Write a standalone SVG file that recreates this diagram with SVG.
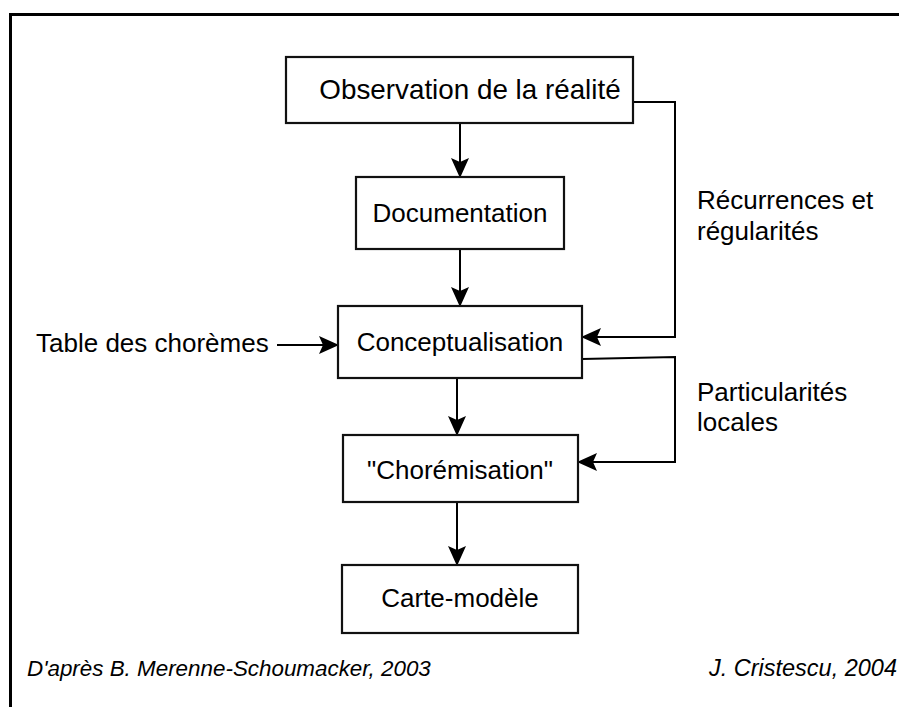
<svg xmlns="http://www.w3.org/2000/svg" width="899" height="707" viewBox="0 0 899 707">
<style>
.box{fill:#fff;stroke:#111;stroke-width:2.2}
.t{font-family:"Liberation Sans",Arial,sans-serif;font-size:26px;fill:#000}
.c{text-anchor:middle}
.f{font-family:"Liberation Sans",Arial,sans-serif;font-size:22.4px;font-style:italic;fill:#000}
.ln{fill:none;stroke:#000;stroke-width:2}
</style>
<defs>
<marker id="ah" viewBox="0 0 20 18" refX="19" refY="9" markerWidth="20" markerHeight="18" markerUnits="userSpaceOnUse" orient="auto">
<path d="M0,0 L20,9 L0,18 L4,9 Z" fill="#000"/>
</marker>
</defs>
<rect x="0" y="0" width="899" height="707" fill="#fff"/>
<path d="M10.5,707 V14.5 H899" fill="none" stroke="#000" stroke-width="3"/>
<g id="connectors">
<line class="ln" x1="460" y1="123" x2="460" y2="177" marker-end="url(#ah)"/>
<line class="ln" x1="460" y1="249" x2="460" y2="306" marker-end="url(#ah)"/>
<line class="ln" x1="457" y1="378" x2="457" y2="435" marker-end="url(#ah)"/>
<line class="ln" x1="457" y1="502" x2="457" y2="565" marker-end="url(#ah)"/>
<line class="ln" x1="277" y1="345" x2="338" y2="345" marker-end="url(#ah)"/>
<polyline class="ln" points="633,102 675,102 675,337 582,337" marker-end="url(#ah)"/>
<polyline class="ln" points="582,359 675,357 675,462 578,462" marker-end="url(#ah)"/>
</g>
<g id="observation">
<rect class="box" x="286" y="57" width="347" height="66"/>
<text class="t c" x="470" y="99" style="font-size:27.8px">Observation de la réalité</text>
</g>
<g id="documentation">
<rect class="box" x="356" y="177" width="208" height="72"/>
<text class="t c" x="460" y="222">Documentation</text>
</g>
<g id="conceptualisation">
<rect class="box" x="338" y="306" width="244" height="72"/>
<text class="t c" x="460" y="351">Conceptualisation</text>
</g>
<g id="choremisation">
<rect class="box" x="343" y="435" width="235" height="67"/>
<text class="t c" x="460" y="479">"Chorémisation"</text>
</g>
<g id="carte">
<rect class="box" x="342" y="565" width="236" height="68"/>
<text class="t c" x="460" y="607">Carte-modèle</text>
</g>
<g id="table">
<text class="t" x="36" y="352">Table des chorèmes</text>
</g>
<g id="labels">
<text class="t" x="697" y="209">Récurrences et</text>
<text class="t" x="697" y="240">régularités</text>
<text class="t" x="697" y="401">Particularités</text>
<text class="t" x="697" y="431">locales</text>
</g>
<g id="footer">
<text class="f" x="27" y="676">D'après B. Merenne-Schoumacker, 2003</text>
<text class="f" x="897" y="676" text-anchor="end" style="font-size:23.5px">J. Cristescu, 2004</text>
</g>
</svg>
